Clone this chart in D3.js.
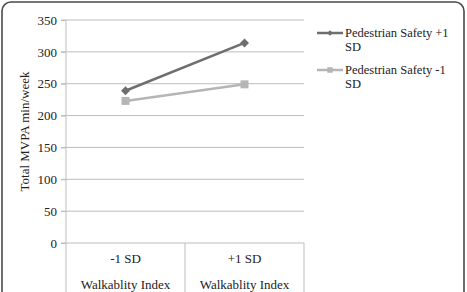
<!DOCTYPE html>
<html>
<head>
<meta charset="utf-8">
<script src="https://cdn.jsdelivr.net/npm/d3@7"></script>
<style>
  body { margin: 0; background: #fff; }
</style>
</head>
<body>
<script>
//categories on the x axis
var categories = ["-1 SD", "+1 SD"];
var groupLabel = "Walkablity Index";

//series names (split over two lines like the original legend) and values
var seriesNames = [["Pedestrian Safety +1", "SD"], ["Pedestrian Safety -1", "SD"]];
var safetyHigh = [239, 314];
var safetyLow = [223, 249];

//y ticks
var yTicks = [0, 50, 100, 150, 200, 250, 300, 350];

var w = 467, h = 292;
//plot area (note: "top" is taken by window.top, so use other names)
var plotLeft = 66, plotRight = 304, plotTop = 20, plotBottom = 243;
var serif = "'Liberation Serif', 'DejaVu Serif', serif";

var svg = d3.select("body").append("svg")
    .attr("width", w)
    .attr("height", h)
    .style("font-family", serif);

//outer frame
svg.append("rect")
    .attr("x", 2).attr("y", 2)
    .attr("width", 462).attr("height", 310)
    .attr("rx", 9)
    .attr("fill", "#fff")
    .attr("stroke", "#4a4a4a")
    .attr("stroke-width", 1.6);

var x = d3.scaleBand().domain(categories).range([plotLeft, plotRight]);
var y = d3.scaleLinear().domain([0, 350]).range([plotBottom, plotTop]);

//gridlines
svg.selectAll(".grid")
    .data(yTicks)
    .enter()
    .append("line")
    .attr("x1", plotLeft - 5)
    .attr("x2", plotRight)
    .attr("y1", function(d) { return y(d); })
    .attr("y2", function(d) { return y(d); })
    .attr("stroke", "#bdbdbd")
    .attr("stroke-width", 1);

//y axis
var yAxis = svg.append("g")
    .attr("transform", "translate(" + plotLeft + ",0)")
    .call(d3.axisLeft(y).tickValues(yTicks).tickSize(5).tickPadding(4));
yAxis.attr("font-family", null).attr("font-size", null);
yAxis.select(".domain").remove();
yAxis.selectAll("line").attr("stroke", "#bdbdbd");
yAxis.selectAll("text")
    .style("font-size", "13px")
    .style("font-family", serif)
    .attr("fill", "#222");

//category table lines
svg.append("line")
    .attr("x1", plotLeft).attr("x2", plotLeft)
    .attr("y1", plotTop).attr("y2", h)
    .attr("stroke", "#bdbdbd");
var bounds = categories.map(function(c) { return x(c) + x.bandwidth(); });
svg.selectAll(".catline")
    .data(bounds)
    .enter()
    .append("line")
    .attr("x1", function(d) { return d; })
    .attr("x2", function(d) { return d; })
    .attr("y1", plotBottom).attr("y2", h)
    .attr("stroke", "#bdbdbd");

//category labels
svg.selectAll(".cat")
    .data(categories)
    .enter()
    .append("text")
    .attr("x", function(d) { return x(d) + x.bandwidth() / 2; })
    .attr("y", 263)
    .attr("text-anchor", "middle")
    .attr("fill", "#222")
    .style("font-size", "13px")
    .text(function(d) { return d; });
svg.selectAll(".grp")
    .data(categories)
    .enter()
    .append("text")
    .attr("x", function(d) { return x(d) + x.bandwidth() / 2; })
    .attr("y", 289)
    .attr("text-anchor", "middle")
    .attr("fill", "#222")
    .style("font-size", "13px")
    .text(groupLabel);

//y title
svg.append("text")
    .attr("transform", "translate(29," + ((plotTop + plotBottom) / 2) + ") rotate(-90)")
    .attr("text-anchor", "middle")
    .attr("fill", "#222")
    .style("font-size", "13px")
    .text("Total MVPA min/week");

//series lines
var series = [
    { name: seriesNames[0], values: safetyHigh, color: "#6e6e6e", diamond: true },
    { name: seriesNames[1], values: safetyLow, color: "#b5b5b5", diamond: false }
];

var line = d3.line()
    .x(function(d, i) { return x(categories[i]) + x.bandwidth() / 2; })
    .y(function(d) { return y(d); });

function markerTransform(cx, cy, diamond) {
    return "translate(" + cx + "," + cy + ")" + (diamond ? " rotate(45)" : "");
}

series.forEach(function(s) {
    svg.append("path")
        .attr("d", line(s.values))
        .attr("fill", "none")
        .attr("stroke", s.color)
        .attr("stroke-width", 2.5);
    svg.selectAll(null)
        .data(s.values)
        .enter()
        .append("path")
        .attr("transform", function(d, i) {
            return markerTransform(x(categories[i]) + x.bandwidth() / 2, y(d), s.diamond);
        })
        .attr("d", d3.symbol().type(d3.symbolSquare).size(s.diamond ? 40 : 64))
        .attr("fill", s.color);
});

//legend
series.forEach(function(s, i) {
    var ly = 33 + i * 37;
    var g = svg.append("g");
    g.append("line")
        .attr("x1", 317).attr("x2", 343)
        .attr("y1", ly).attr("y2", ly)
        .attr("stroke", s.color)
        .attr("stroke-width", 2.5);
    g.append("path")
        .attr("transform", markerTransform(330, ly, s.diamond))
        .attr("d", d3.symbol().type(d3.symbolSquare).size(s.diamond ? 16 : 30))
        .attr("fill", s.color);
    g.selectAll("text")
        .data(s.name)
        .enter()
        .append("text")
        .attr("x", 345)
        .attr("y", function(d, j) { return ly + 4 + j * 14; })
        .attr("fill", "#222")
        .style("font-size", "12.5px")
        .text(function(d) { return d; });
});
</script>
</body>
</html>
